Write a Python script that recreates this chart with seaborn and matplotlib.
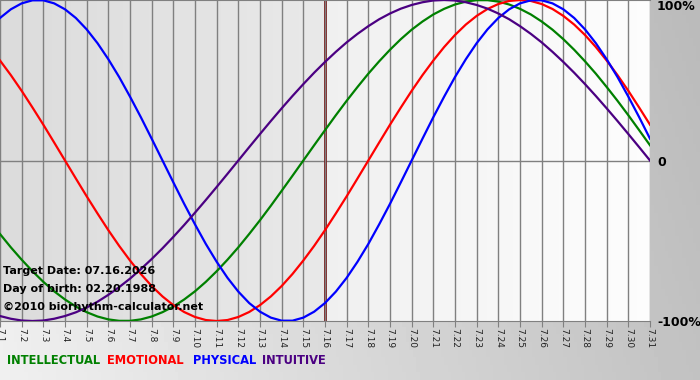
import matplotlib
matplotlib.use("Agg")
import matplotlib.pyplot as plt
import seaborn as sns
import pandas as pd
import numpy as np

# days of July 2026
days = list(range(1, 32))
day_labels = [f"7.{d}" for d in days]
target_day = 16

# curves every half day (7.1, 7.1½, ... 7.31), -1 .. 1
sample_days = [d / 2 for d in range(2, 63)]

intellectual = [-0.458, -0.541, -0.618, -0.690, -0.756, -0.815, -0.866, -0.910, -0.945, -0.972,
                -0.990, -0.999, -0.999, -0.990, -0.972, -0.945, -0.910, -0.866, -0.815, -0.756,
                -0.690, -0.618, -0.541, -0.458, -0.372, -0.282, -0.189, -0.095,
                0.000, 0.095, 0.189, 0.282, 0.372, 0.458, 0.541, 0.618, 0.690, 0.756,
                0.815, 0.866, 0.910, 0.945, 0.972, 0.990, 0.999, 0.999, 0.990, 0.972,
                0.945, 0.910, 0.866, 0.815, 0.756, 0.690, 0.618, 0.541, 0.458, 0.372,
                0.282, 0.189, 0.095]
emotional = [0.623, 0.532, 0.434, 0.330, 0.223, 0.112, 0.000,
             -0.112, -0.223, -0.330, -0.434, -0.532, -0.623, -0.707, -0.782, -0.847, -0.901,
             -0.944, -0.975, -0.994, -1.000, -0.994, -0.975, -0.944, -0.901, -0.847, -0.782,
             -0.707, -0.623, -0.532, -0.434, -0.330, -0.223, -0.112,
             0.000, 0.112, 0.223, 0.330, 0.434, 0.532, 0.623, 0.707, 0.782, 0.847,
             0.901, 0.944, 0.975, 0.994, 1.000, 0.994, 0.975, 0.944, 0.901, 0.847,
             0.782, 0.707, 0.623, 0.532, 0.434, 0.330, 0.223]
physical = [0.888, 0.942, 0.979, 0.998, 0.998, 0.979, 0.942, 0.888, 0.817, 0.731,
            0.631, 0.520, 0.398, 0.270, 0.136, 0.000,
            -0.136, -0.270, -0.398, -0.520, -0.631, -0.731, -0.817, -0.888, -0.942, -0.979,
            -0.998, -0.998, -0.979, -0.942, -0.888, -0.817, -0.731, -0.631, -0.520, -0.398,
            -0.270, -0.136,
            0.000, 0.136, 0.270, 0.398, 0.520, 0.631, 0.731, 0.817, 0.888, 0.942,
            0.979, 0.998, 0.998, 0.979, 0.942, 0.888, 0.817, 0.731, 0.631, 0.520,
            0.398, 0.270, 0.136]
intuitive = [-0.969, -0.986, -0.997, -1.000, -0.997, -0.986, -0.969, -0.946, -0.916, -0.880,
             -0.837, -0.789, -0.736, -0.677, -0.614, -0.547, -0.476, -0.402, -0.325, -0.246,
             -0.165, -0.083,
             0.000, 0.083, 0.165, 0.246, 0.325, 0.402, 0.476, 0.547, 0.614, 0.677,
             0.736, 0.789, 0.837, 0.880, 0.916, 0.946, 0.969, 0.986, 0.997, 1.000,
             0.997, 0.986, 0.969, 0.946, 0.916, 0.880, 0.837, 0.789, 0.736, 0.677,
             0.614, 0.547, 0.476, 0.402, 0.325, 0.246, 0.165, 0.083, 0.000]

cycles = ["INTELLECTUAL", "EMOTIONAL", "PHYSICAL", "INTUITIVE"]
colors = ["#008000", "#ff0000", "#0000ff", "#4b0082"]

df = pd.DataFrame({
    "day": sample_days * 4,
    "value": intellectual + emotional + physical + intuitive,
    "cycle": sum([[c] * len(sample_days) for c in cycles], []),
})

fig = plt.figure(figsize=(7, 3.8), dpi=100)

# outer gray gradient
bg = fig.add_axes([0, 0, 1, 1], zorder=-5)
gx = np.linspace(0, 1, 200)
gy = np.linspace(0, 1, 50)
grad = 0.94 - 0.18 * gx[None, :] - 0.03 * gy[:, None]
bg.imshow(grad, cmap="gray", vmin=0, vmax=1, aspect="auto", extent=[0, 1, 0, 1], origin="lower")
bg.axis("off")

ax = fig.add_axes([0, 1 - 321 / 380, 650 / 700, 321 / 380])
ax.set_xlim(days[0], days[-1])
ax.set_ylim(-1.0, 1.0)

# plot background: darker past, lighter future
ax.imshow(np.linspace(0.86, 0.91, 50)[None, :], cmap="gray", vmin=0, vmax=1, aspect="auto",
          extent=[days[0], target_day, -1, 1], zorder=0)
ax.imshow(np.linspace(0.94, 0.99, 50)[None, :], cmap="gray", vmin=0, vmax=1, aspect="auto",
          extent=[target_day, days[-1], -1, 1], zorder=0)

ax.set_xticks(days)
ax.set_xticklabels(day_labels, rotation=-90, fontsize=6.5, color="#222222")
ax.grid(axis="x", color="#808080", linewidth=1, zorder=1)
ax.set_axisbelow(False)
ax.axhline(0, color="#808080", linewidth=1, zorder=1)
ax.tick_params(axis="x", length=4, color="#808080", pad=1)

sns.lineplot(data=df, x="day", y="value", hue="cycle", palette=colors,
             linewidth=1.6, legend=False, ax=ax, zorder=3)
ax.axvline(target_day, color="#7a1010", linewidth=2, zorder=2)

ax.yaxis.tick_right()
ax.set_yticks([-1, 0, 1])
ax.set_yticklabels(["-100%", "0", "100%"], fontsize=9, fontweight="bold")
ax.tick_params(axis="y", length=0, pad=5)
ax.get_yticklabels()[2].set_va("top")
ax.set_xlabel("")
ax.set_ylabel("")

for s in ["left", "right"]:
    ax.spines[s].set_visible(False)
ax.spines["top"].set_color("#808080")
ax.spines["bottom"].set_color("#808080")

info = ["Target Date: 07.16.2026", "Day of birth: 02.20.1988", "\u00a92010 biorhythm-calculator.net"]
for i, t in enumerate(info):
    fig.text(3 / 700, 1 - (271 + i * 18) / 380, t, fontsize=8, fontweight="bold",
             va="center", ha="left", zorder=10)

# legend row
xpos = [7, 107, 193, 262]
for c, col, x in zip(cycles, colors, xpos):
    fig.text(x / 700, 1 - 361 / 380, c, color=col, fontsize=8.3, fontweight="bold",
             va="center", ha="left")

fig.savefig("out.png", dpi=100)
